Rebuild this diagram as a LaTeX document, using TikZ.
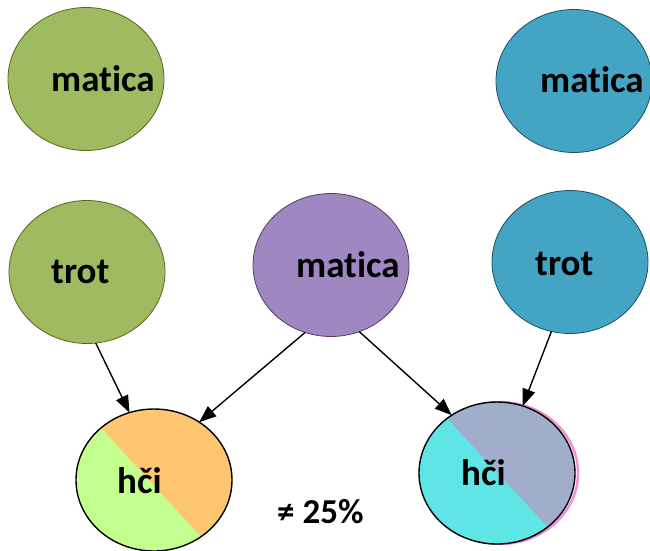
\documentclass[tikz,border=0pt]{standalone}
\usepackage{fontspec}
\setmainfont{Carlito}[Ligatures=NoCommon]
\usetikzlibrary{shapes.geometric,arrows.meta}

\definecolor{olivefill}{HTML}{9EBB62}
\definecolor{oliveline}{HTML}{5F6418}
\definecolor{tealfill}{HTML}{43A4C4}
\definecolor{tealline}{HTML}{1E4F5E}
\definecolor{violetfill}{HTML}{9F88C2}
\definecolor{violetline}{HTML}{5A3B58}
\definecolor{peachfill}{HTML}{FFC672}
\definecolor{limefill}{HTML}{C2FF8E}
\definecolor{aquafill}{HTML}{5FE5E6}
\definecolor{slatefill}{HTML}{A1AECB}
\definecolor{pinkedge}{HTML}{F48FCB}

\tikzset{
  blob/.style={ellipse, inner sep=0pt, outer sep=0pt,
    minimum width=156pt, minimum height=143pt, line width=0.8pt},
  greenblob/.style={blob, fill=olivefill, draw=oliveline},
  blueblob/.style={blob, fill=tealfill, draw=tealline},
  purpleblob/.style={blob, fill=violetfill, draw=violetline},
  childblob/.style={blob, draw=black, line width=1.4pt},
  word/.style={anchor=base west, inner sep=0pt,
    font=\fontsize{37}{40}\selectfont\bfseries},
  link/.style={line width=1.4pt, -{Triangle[length=17pt,width=13pt]}}
}

\begin{document}
\begin{tikzpicture}[x=1pt, y=-1pt]
\useasboundingbox (0,0) rectangle (650,550);

% parents and grandparents
\node[greenblob] (matL) at (86,79) {};
\node[blueblob] (matR) at (574,81) {};
\node[greenblob] (trotL) at (87,272) {};
\node[purpleblob] (matC) at (331,265) {};
\node[blueblob] (trotR) at (570,262) {};

\node[word] (tmatL) at (51,91) {matica};
\node[word] (tmatR) at (540,92) {matica};
\node[word] (ttrotL) at (51,283) {trot};
\node[word] (tmatC) at (296,277) {matica};
\node[word] (ttrotR) at (535,275) {trot};

% left daughter: split fill
\begin{scope}
  \clip (154,480) ellipse [x radius=78, y radius=71];
  \fill[peachfill] (60,400) rectangle (240,560);
  \fill[limefill] (4,322) -- (298,643) -- (-100,643) -- (-100,322) -- cycle;
\end{scope}
\node[childblob, minimum height=142pt] (hciL) at (154,480) {};

% right daughter: pink rim, split fill
\draw[pinkedge, line width=2.4pt] (500,473) ellipse [x radius=78, y radius=71];
\begin{scope}
  \clip (497,473) ellipse [x radius=78, y radius=71];
  \fill[slatefill] (400,390) rectangle (590,560);
  \fill[aquafill] (349,313) -- (646,633) -- (300,633) -- (300,313) -- cycle;
\end{scope}
\node[childblob, minimum height=142pt] (hciR) at (497,473) {};

\node[word] (thciL) at (117,493) {hči};
\node[word] (thciR) at (461,485) {hči};
\node[word, font=\fontsize{35}{38}\selectfont\bfseries] (diff) at (277,523) {≠ 25\%};

% inheritance arrows
\draw[link] (trotL.-83) -- (hciL.110);
\draw[link] (matC.-111) -- (hciL.52);
\draw[link] (matC.-67) -- (hciR.128);
\draw[link] (trotR.-105) -- (hciR.69);
\end{tikzpicture}
\end{document}
